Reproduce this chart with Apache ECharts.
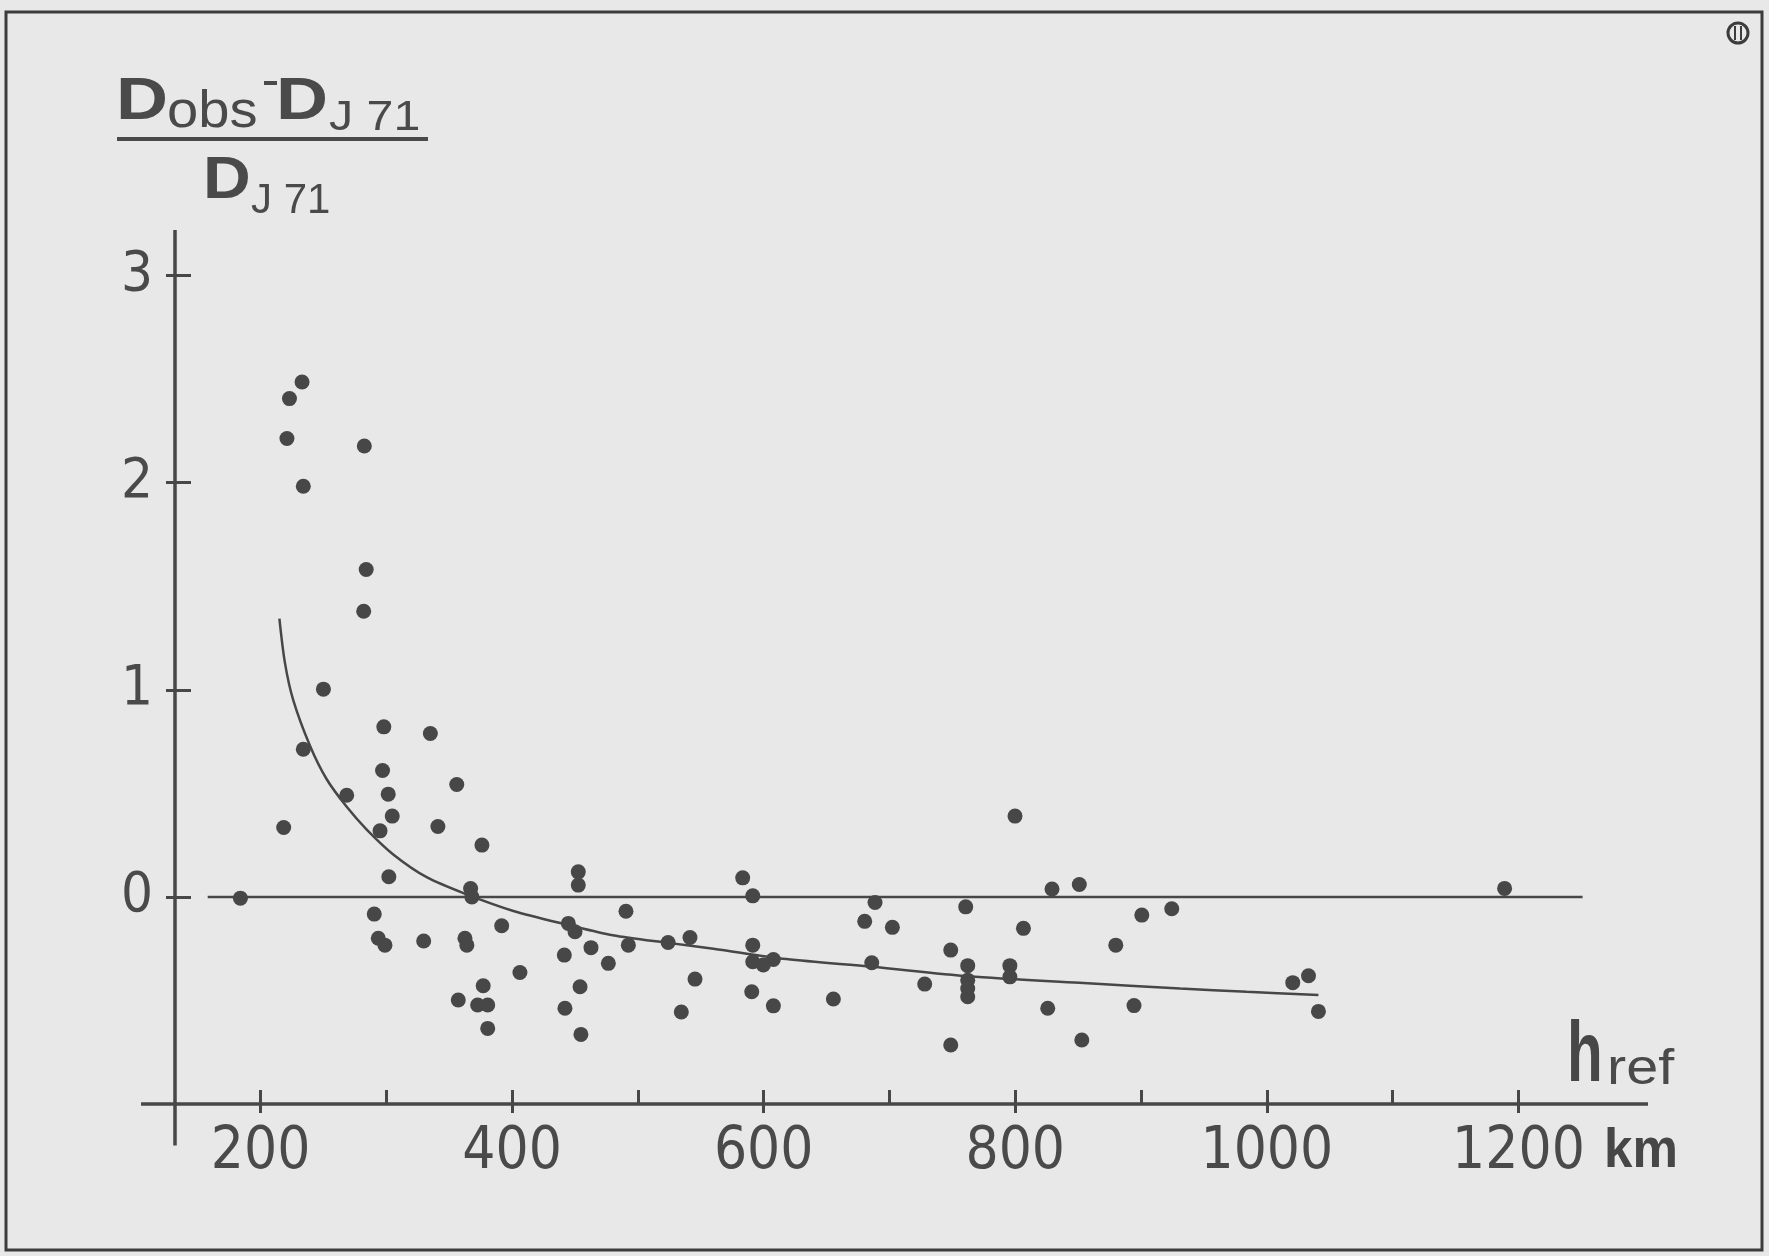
<!DOCTYPE html>
<html><head><meta charset="utf-8">
<style>html,body{margin:0;padding:0;background:#e8e8e8;}#c{width:1769px;height:1256px;}</style>
<script src="https://cdn.jsdelivr.net/npm/echarts@6/dist/echarts.min.js"></script>
</head><body><div id="c"></div>
<script>
// ---- data ----
const xTickValues = [200, 300, 400, 500, 600, 700, 800, 900, 1000, 1100, 1200];
const xLabelValues = [200, 400, 600, 800, 1000, 1200];
const yTickValues = [0, 1, 2, 3];

const hRef = [
  233, 223, 221, 282.5, 234, 284, 282, 250,
  298, 335, 234, 297, 356, 268.5, 301.5, 304.7, 218.4, 295, 341, 376, 302, 184, 367, 368, 290.4, 293.6, 298.9, 329.7, 362.5, 364, 391.7, 377, 357.2, 372.6, 380.6, 380.6,
  452.6, 452.6, 583.3, 591.3, 490.5, 444.7, 450, 524, 541.4, 492.4, 462.7, 441.5, 476.5, 591.3, 591.3, 599.7, 607.7, 406.2, 545.4, 454, 590.5, 607.7, 442, 534.5, 454.7,
  799.8, 829.2, 850.9, 688.5, 760.6, 680.3, 702.3, 806.5, 748.7, 685.9, 762.2, 762.2, 762.2, 762.2, 795.7, 795.7, 728, 655.4, 825.8, 748.7, 852.9,
  900.6, 924.4, 879.9, 894.4, 1033.1, 1020.6, 1041,
  1189
];
const ratio = [
  2.486, 2.406, 2.213, 2.177, 1.983, 1.581, 1.379, 1.003,
  0.821, 0.789, 0.713, 0.610, 0.543, 0.491, 0.496, 0.390, 0.335, 0.319, 0.340, 0.250, 0.097, -0.006, 0.04, 0.0, -0.083, -0.200, -0.233, -0.213, -0.200, -0.233, -0.139, -0.429, -0.498, -0.522, -0.522, -0.635,
  0.121, 0.057, 0.092, 0.005, -0.069, -0.128, -0.168, -0.220, -0.196, -0.233, -0.245, -0.281, -0.321, -0.233, -0.313, -0.329, -0.302, -0.365, -0.397, -0.434, -0.458, -0.526, -0.538, -0.556, -0.664,
  0.390, 0.038, 0.060, -0.027, -0.048, -0.118, -0.147, -0.152, -0.257, -0.318, -0.332, -0.402, -0.442, -0.482, -0.332, -0.386, -0.421, -0.493, -0.538, -0.715, -0.691,
  -0.088, -0.057, -0.233, -0.525, -0.381, -0.414, -0.553,
  0.041
];

// fitted curve
const curveH = [215, 219.4, 226, 239.3, 252.6, 268.5, 284.4, 305.5, 332.1, 363.9, 401, 445, 480, 524, 560, 618, 686, 763, 851, 931, 984, 1041];
const curveR = [1.344, 1.13, 0.95, 0.73, 0.568, 0.435, 0.325, 0.205, 0.095, 0.012, -0.068, -0.136, -0.185, -0.222, -0.250, -0.300, -0.337, -0.383, -0.415, -0.442, -0.458, -0.474];

// zero reference line extent
const zeroLineH = [158, 1251];

// axis geometry (axes cross at h=132, ratio=-1)
const X_MIN = 132, X_MAX = 1303, Y_MIN = -1.0, Y_MAX = 3.22;
const X_AXIS_START = 105, Y_AXIS_BOTTOM = -1.2;

// ---- chart ----
const ink = '#474747';
const txt = '#4a4a4a';
const numFont = "'DejaVu Sans Condensed','Liberation Sans Narrow','DejaVu Sans',sans-serif";
const sansFont = "'Liberation Sans','DejaVu Sans',sans-serif";

const chart = echarts.init(document.getElementById('c'));
const gridBox = {left: 175, right: 121, top: 230, bottom: 152};
const plain = v => String(v);

const staticGraphics = [
  // frame
  {type: 'rect', shape: {x: 6, y: 12, width: 1756, height: 1238}, style: {fill: 'none', stroke: '#3c3c3c', lineWidth: 3}, silent: true},
  // corner mark
  {type: 'circle', shape: {cx: 1738, cy: 33, r: 10}, style: {fill: 'none', stroke: '#3c3c3c', lineWidth: 3}},
  {type: 'line', shape: {x1: 1735, y1: 26, x2: 1735, y2: 40}, style: {stroke: '#3c3c3c', lineWidth: 2}},
  {type: 'line', shape: {x1: 1741, y1: 26, x2: 1741, y2: 40}, style: {stroke: '#3c3c3c', lineWidth: 2}},
  // title fraction
  {type: 'text', x: 116, y: 102, scaleX: 1.2, style: {text: 'D', fontSize: 60, fontWeight: 'bold', fontFamily: sansFont, fill: txt, verticalAlign: 'middle', align: 'left'}},
  {type: 'text', x: 167, y: 113, scaleX: 1.08, style: {text: 'obs', fontSize: 52, fontFamily: sansFont, fill: txt, verticalAlign: 'middle', align: 'left'}},
  {type: 'rect', shape: {x: 264, y: 81, width: 13, height: 4}, style: {fill: txt}},
  {type: 'text', x: 276, y: 102, scaleX: 1.2, style: {text: 'D', fontSize: 60, fontWeight: 'bold', fontFamily: sansFont, fill: txt, verticalAlign: 'middle', align: 'left'}},
  {type: 'text', x: 329, y: 118, scaleX: 1.15, style: {text: 'J 71', fontSize: 42, fontFamily: sansFont, fill: txt, verticalAlign: 'middle', align: 'left'}},
  {type: 'rect', shape: {x: 117, y: 137, width: 311, height: 4}, style: {fill: txt}},
  {type: 'text', x: 203, y: 182, scaleX: 1.12, style: {text: 'D', fontSize: 59, fontWeight: 'bold', fontFamily: sansFont, fill: txt, verticalAlign: 'middle', align: 'left'}},
  {type: 'text', x: 251, y: 201, style: {text: 'J 71', fontSize: 42, fontFamily: sansFont, fill: txt, verticalAlign: 'middle', align: 'left'}},
  // axis name
  {type: 'text', x: 1567, y: 1057, scaleX: 0.68, style: {text: 'h', fontSize: 86, fontWeight: 'bold', fontFamily: sansFont, fill: ink, verticalAlign: 'middle', align: 'left'}},
  {type: 'text', x: 1607, y: 1070, scaleX: 1.15, style: {text: 'ref', fontSize: 50, fontFamily: sansFont, fill: txt, verticalAlign: 'middle', align: 'left'}},
  {type: 'text', x: 1604, y: 1152, scaleX: 0.93, style: {text: 'km', fontSize: 55, fontWeight: 'bold', fontFamily: sansFont, fill: ink, verticalAlign: 'middle', align: 'left'}}
];

const option = {
  backgroundColor: '#e8e8e8',
  animation: false,
  grid: [Object.assign({}, gridBox), Object.assign({}, gridBox)],
  xAxis: [
    {type: 'value', gridIndex: 0, min: X_MIN, max: X_MAX,
      axisLine: {show: false, onZero: false}, splitLine: {show: false},
      axisTick: {show: true, inside: true, length: 14, customValues: xTickValues, lineStyle: {color: ink, width: 3}},
      axisLabel: {customValues: xLabelValues, formatter: plain, fontSize: 58, fontFamily: numFont, color: txt, margin: 20}},
    {type: 'value', gridIndex: 1, min: X_MIN, max: X_MAX,
      axisLine: {show: false, onZero: false}, splitLine: {show: false},
      axisTick: {show: true, inside: false, length: 9, customValues: xLabelValues, lineStyle: {color: ink, width: 3}},
      axisLabel: {show: false}}
  ],
  yAxis: [
    {type: 'value', gridIndex: 0, min: Y_MIN, max: Y_MAX,
      axisLine: {show: false, onZero: false}, splitLine: {show: false},
      axisTick: {show: true, inside: true, length: 16, customValues: yTickValues, lineStyle: {color: ink, width: 3}},
      axisLabel: {customValues: yTickValues, formatter: plain, fontSize: 56, fontFamily: numFont, color: txt, margin: 22}},
    {type: 'value', gridIndex: 1, min: Y_MIN, max: Y_MAX,
      axisLine: {show: false, onZero: false}, splitLine: {show: false},
      axisTick: {show: true, inside: false, length: 9, customValues: yTickValues, lineStyle: {color: ink, width: 3}},
      axisLabel: {show: false}}
  ],
  series: [
    {type: 'line', name: 'zero', silent: true, symbol: 'none',
      data: zeroLineH.map(h => [h, 0]), lineStyle: {color: ink, width: 2.5}},
    {type: 'line', name: 'fit', silent: true, symbol: 'none', smooth: 0.3,
      data: curveH.map((h, i) => [h, curveR[i]]), lineStyle: {color: ink, width: 2.5}},
    {type: 'scatter', name: 'obs', symbol: 'circle', symbolSize: 15,
      data: hRef.map((h, i) => [h, ratio[i]]), itemStyle: {color: ink, opacity: 1}}
  ],
  graphic: staticGraphics
};
chart.setOption(option);

// crossed axis lines, placed through the chart's own scales
const px = (h, r) => chart.convertToPixel({gridIndex: 0}, [h, r]);
const xa0 = px(X_AXIS_START, Y_MIN), xa1 = px(X_MAX, Y_MIN);
const ya0 = px(X_MIN, Y_AXIS_BOTTOM), ya1 = px(X_MIN, Y_MAX);
chart.setOption({
  graphic: staticGraphics.concat([
    {type: 'line', shape: {x1: xa0[0], y1: xa0[1], x2: xa1[0], y2: xa1[1]}, style: {stroke: ink, lineWidth: 3.5}, z: 10},
    {type: 'line', shape: {x1: ya0[0], y1: ya0[1], x2: ya1[0], y2: ya1[1]}, style: {stroke: ink, lineWidth: 3.5}, z: 10}
  ])
});
</script>
</body></html>
